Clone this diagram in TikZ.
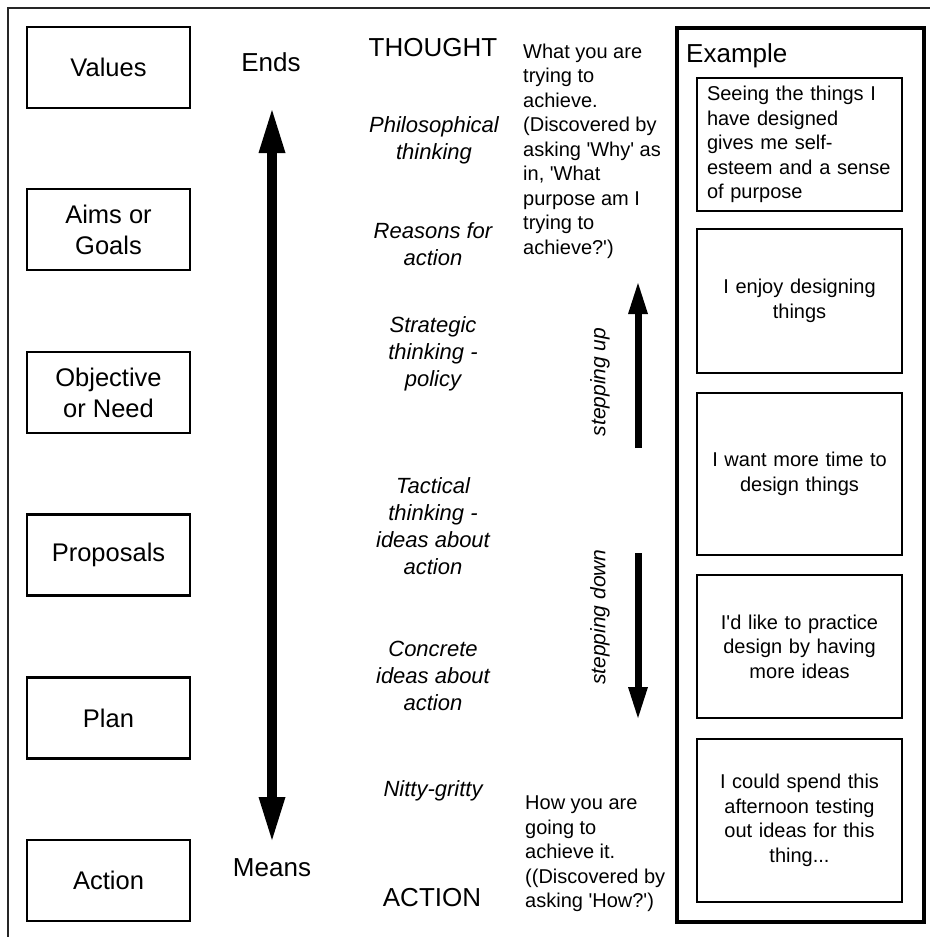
\documentclass[tikz,border=0pt]{standalone}
\usepackage{fontspec}
\setmainfont{Liberation Sans}
\usetikzlibrary{arrows.meta}
\newcommand{\sq}{\textquotesingle}
\begin{document}
\begin{tikzpicture}[x=1pt,y=-1pt,
  leftbox/.style={draw, line width=2.6pt, minimum width=163pt, minimum height=81pt, inner sep=0pt, align=center, font=\fontsize{25.5}{31}\selectfont},
  exbox/.style={draw, line width=2.6pt, minimum width=205pt, inner sep=0pt, text width=185pt, font=\fontsize{20}{24.5}\selectfont},
  midtext/.style={align=center, inner sep=0pt, font=\fontsize{22}{27}\selectfont\itshape},
  coltext/.style={align=left, inner sep=0pt, anchor=west, font=\fontsize{20}{24.5}\selectfont},
  bigtext/.style={inner sep=0pt, font=\fontsize{26}{31}\selectfont},
  steptext/.style={inner sep=0pt, rotate=90, font=\fontsize{21}{25}\selectfont\itshape},
  bigarrow/.style={line width=10pt, {Triangle[length=43pt,width=27pt,line width=0pt]}-{Triangle[length=43pt,width=27pt,line width=0pt]}},
  smallarrow/.style={line width=7pt, -{Triangle[length=31pt,width=20pt,line width=0pt]}}
]
\useasboundingbox (0,0) rectangle (930,937);
\fill[white] (0,0) rectangle (930,937);
% outer frame (only top and left edges visible)
\draw[line width=1.3pt, black!85] (8,937) -- (8,8) -- (930,8);

% left column boxes
\node[leftbox] (values) at (108.5,67.5) {Values};
\node[leftbox] (aims) at (108.5,229.5) {Aims or\\Goals};
\node[leftbox] (objective) at (108.5,392.5) {Objective\\or Need};
\node[leftbox] (proposals) at (108.5,555) {Proposals};
\node[leftbox] (plan) at (108.5,718) {Plan};
\node[leftbox] (action) at (108.5,880.5) {Action};

% ends / means
\node[bigtext] (ends) at (271,62.5) {Ends};
\node[bigtext] (means) at (272,867.5) {Means};
\coordinate (bigtop) at (272,110);
\coordinate (bigbot) at (272,840);
\draw[bigarrow] (bigbot) -- (bigtop);

% middle column
\node[bigtext] (thought) at (433,48) {THOUGHT};
\node[midtext] (philo) at (434,140) {Philosophical\\thinking};
\node[midtext] (reasons) at (433,244.5) {Reasons for\\action};
\node[midtext] (strategic) at (433,354) {Strategic\\thinking -\\policy};
\node[midtext] (tactical) at (433,526.5) {Tactical\\thinking -\\ideas about\\action};
\node[midtext] (concrete) at (433,676) {Concrete\\ideas about\\action};
\node[midtext] (nitty) at (433,791) {Nitty-gritty};
\node[bigtext] (actiontxt) at (432,897.5) {ACTION};

% right text column
\node[coltext] (whattxt) at (523,151.3) {What you are\\trying to\\achieve.\\(Discovered by\\asking \sq Why\sq{} as\\in, \sq What\\purpose am I\\trying to\\achieve?\sq)};
\node[coltext] (howtxt) at (525,853.8) {How you are\\going to\\achieve it.\\((Discovered by\\asking \sq How?\sq)};

% stepping arrows
\coordinate (upfrom) at (638,448);
\coordinate (upto) at (638,283);
\coordinate (downfrom) at (638,553);
\coordinate (downto) at (638,718);
\draw[smallarrow] (upfrom) -- (upto);
\draw[smallarrow] (downfrom) -- (downto);
\node[steptext] (stepup) at (600,382) {stepping up};
\node[steptext] (stepdown) at (600,617) {stepping down};

% example frame
\node[draw, line width=4.5pt, minimum width=247pt, minimum height=894pt, inner sep=0pt] (exframe) at (800.5,475) {};
\node[bigtext, anchor=base west] (extitle) at (686,62) {Example};
\node[exbox, align=left, minimum height=133pt] (ex1) at (799.5,144.5) {Seeing the things I\\have designed\\gives me self-\\esteem and a sense\\of purpose};
\node[exbox, align=center, minimum height=144pt] (ex2) at (799.5,301) {I enjoy designing\\things};
\node[exbox, align=center, minimum height=162pt] (ex3) at (799.5,474) {I want more time to\\design things};
\node[exbox, align=center, minimum height=143pt] (ex4) at (799.5,646.5) {I\sq d like to practice\\design by having\\more ideas};
\node[exbox, align=center, minimum height=163pt] (ex5) at (799.5,820.5) {I could spend this\\afternoon testing\\out ideas for this\\thing...};
\end{tikzpicture}
\end{document}
